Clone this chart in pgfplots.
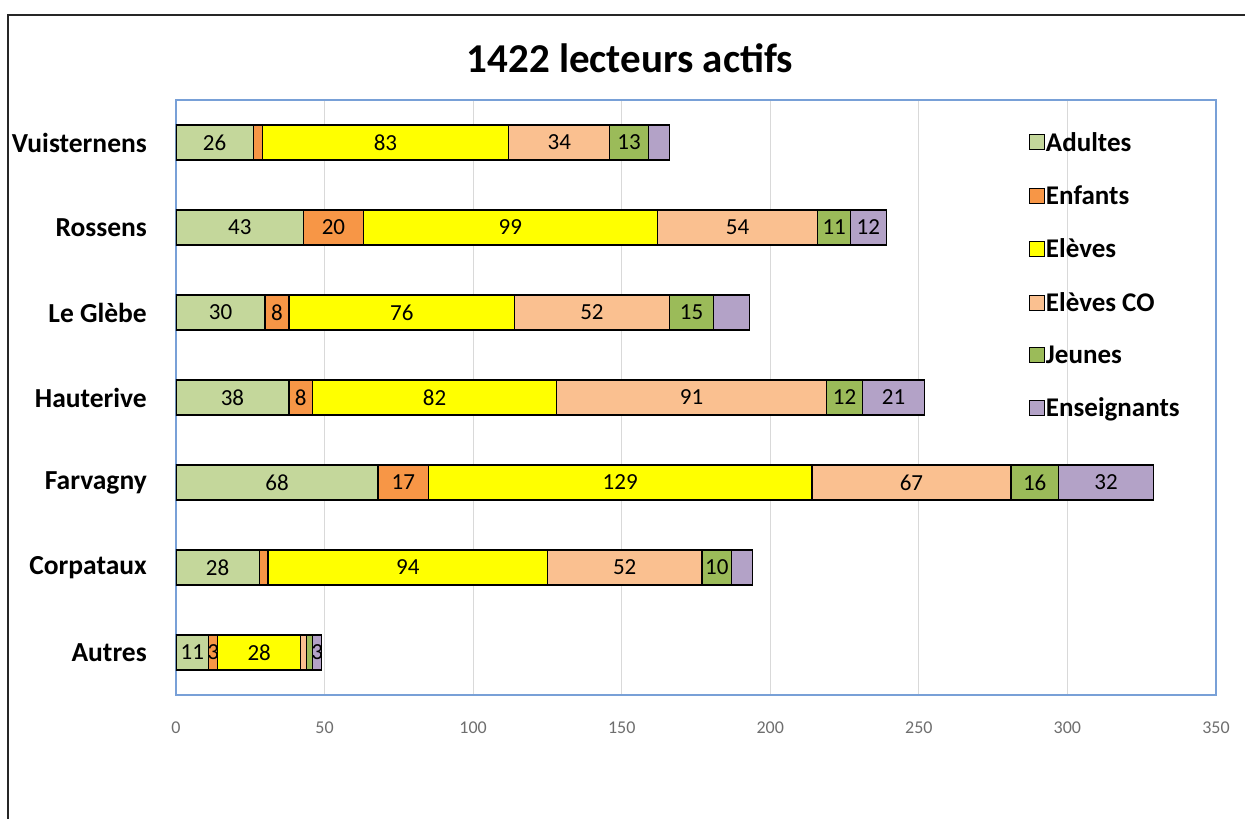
\documentclass[border=0pt]{standalone}
\usepackage{fontspec}
\setmainfont{Carlito}
\usepackage{pgfplots}
\pgfplotsset{compat=1.18}
\usepackage{pgfplotstable}
\definecolor{cAd}{RGB}{196,215,155}
\definecolor{cEn}{RGB}{247,150,70}
\definecolor{cEl}{RGB}{255,255,0}
\definecolor{cCO}{RGB}{250,192,144}
\definecolor{cJe}{RGB}{155,187,89}
\definecolor{cEs}{RGB}{179,162,199}
\definecolor{axblue}{RGB}{120,160,215}
\definecolor{tickgray}{RGB}{110,110,110}
% y = category (0 = Autres ... 6 = Vuisternens), v = value, l = label shown (0 = hidden)
\pgfplotstableread{
y v l
6 26 26
5 43 43
4 30 30
3 38 38
2 68 68
1 28 28
0 11 11
}\tAd
\pgfplotstableread{
y v l
6 3 0
5 20 20
4 8 8
3 8 8
2 17 17
1 3 0
0 3 3
}\tEn
\pgfplotstableread{
y v l
6 83 83
5 99 99
4 76 76
3 82 82
2 129 129
1 94 94
0 28 28
}\tEl
\pgfplotstableread{
y v l
6 34 34
5 54 54
4 52 52
3 91 91
2 67 67
1 52 52
0 2 0
}\tCO
\pgfplotstableread{
y v l
6 13 13
5 11 11
4 15 15
3 12 12
2 16 16
1 10 10
0 2 0
}\tJe
\pgfplotstableread{
y v l
6 7 0
5 12 12
4 12 0
3 21 21
2 32 32
1 7 0
0 3 3
}\tEs
\begin{document}
\begin{tikzpicture}
\path[use as bounding box] (0pt,0pt) rectangle (1245pt,819pt);
\draw[line width=1.5pt, black!85] (8pt,0pt) -- (8pt,804pt) -- (1245pt,804pt);
\node[font=\fontsize{41}{49}\selectfont\bfseries] at (630pt,761pt) {1422 lecteurs actifs};
\begin{axis}[
  at={(176pt,124pt)}, anchor=south west,
  width=1040pt, height=595pt, scale only axis,
  xbar stacked, bar width=35pt,
  xmin=0, xmax=350, ymin=-0.5, ymax=6.5,
  xtick={0,50,...,350},
  ytick={0,...,6},
  yticklabels={Autres,Corpataux,Farvagny,Hauterive,Le Glèbe,Rossens,Vuisternens},
  major tick length=0pt,
  tick style={draw=none},
  /pgf/number format/assume math mode=true,
  xticklabel style={font=\fontsize{18}{21}\selectfont, text=tickgray, inner sep=0pt, yshift=-27pt},
  yticklabel style={font=\fontsize{27.5}{32}\selectfont\bfseries, anchor=east, inner sep=0pt, xshift=-29pt},
  xmajorgrids,
  grid style={draw=black!15, line width=1pt},
  axis line style={draw=axblue, line width=1.3pt},
  every axis plot/.append style={draw=black, line width=1.3pt},
  point meta=\thisrow{l},
  nodes near coords={\pgfmathfloatifflags{\pgfplotspointmeta}{0}{}{\pgfmathprintnumber{\pgfplotspointmeta}}},
  every node near coord/.append style={anchor=center, font=\fontsize{23}{27}\selectfont, text=black, inner sep=0pt},
  legend image code/.code={\draw[#1, draw=black, line width=1pt] (0pt,-7.5pt) rectangle (15pt,7.5pt);},
  legend style={at={(0.82,0.948)}, anchor=north west, draw=none, fill=none,
    font=\fontsize{27}{32}\selectfont\bfseries, row sep=31pt, inner sep=0pt,
    nodes={inner sep=1pt}},
  legend cell align=left,
]
\addplot[fill=cAd] table[x=v,y=y] {\tAd};
\addplot[fill=cEn] table[x=v,y=y] {\tEn};
\addplot[fill=cEl] table[x=v,y=y] {\tEl};
\addplot[fill=cCO] table[x=v,y=y] {\tCO};
\addplot[fill=cJe] table[x=v,y=y] {\tJe};
\addplot[fill=cEs] table[x=v,y=y] {\tEs};
\legend{Adultes,Enfants,Elèves,Elèves CO,Jeunes,Enseignants}
\end{axis}
\end{tikzpicture}
\end{document}
